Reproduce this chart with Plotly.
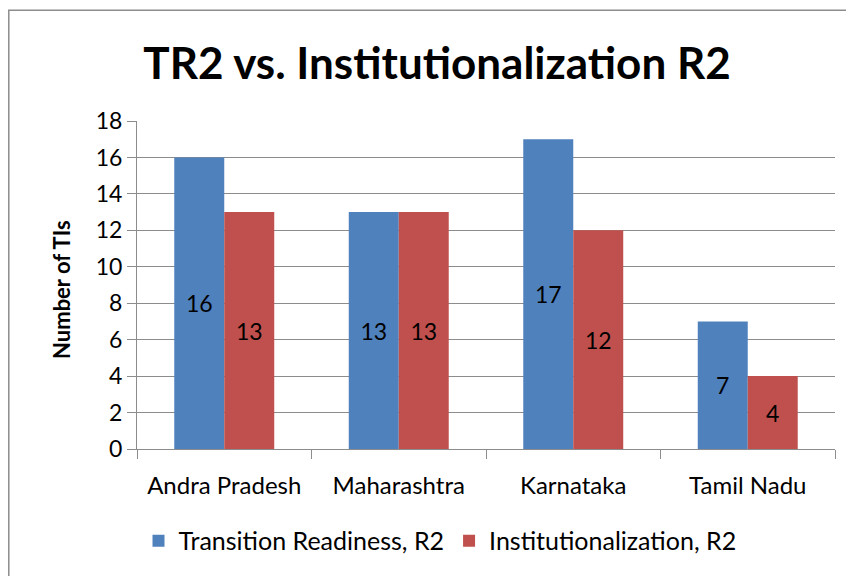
import plotly.graph_objects as go

categories = ["Andra Pradesh", "Maharashtra", "Karnataka", "Tamil Nadu"]
transition_readiness = [16, 13, 17, 7]
institutionalization = [13, 13, 12, 4]
y_ticks = [0, 2, 4, 6, 8, 10, 12, 14, 16, 18]

FONT = "Lato"
OFF = 8  # page body margin
W, H = 854 - OFF, 576 - OFF
# plot area in page coords: x 137..835, y 121..453
L, T = 137 - OFF, 121 - OFF
pw, ph = 698, 332
R = W - L - pw
B = H - T - ph

def px_x(x):  # page x -> paper
    return (x - OFF - L) / pw

def px_y(y):  # page y -> paper
    return (T + ph - (y - OFF)) / ph

fig = go.Figure()
fig.add_trace(go.Bar(
    name="Transition Readiness, R2", x=categories, y=transition_readiness,
    marker=dict(color="#4F81BD", line=dict(width=0)),
    text=transition_readiness, textposition="inside", insidetextanchor="middle",
    textangle=0, textfont=dict(family=FONT, size=23, color="black"),
))
fig.add_trace(go.Bar(
    name="Institutionalization, R2", x=categories, y=institutionalization,
    marker=dict(color="#C0504D", line=dict(width=0)),
    text=institutionalization, textposition="inside", insidetextanchor="middle",
    textangle=0, textfont=dict(family=FONT, size=23, color="black"),
))

fig.update_layout(
    width=W, height=H,
    margin=dict(l=L, r=R, t=T, b=B, pad=0),
    paper_bgcolor="white", plot_bgcolor="white",
    barmode="group", bargap=0.427, bargroupgap=0,
    font=dict(family=FONT, size=23, color="black"),
    title=dict(text="<b>TR2 vs. Institutionalization R2</b>", x=(437 - OFF) / W, xanchor="center",
               y=1 - (64 - OFF) / H, yanchor="middle", font=dict(family=FONT, size=44, color="black")),
    showlegend=True,
    legend=dict(orientation="h", x=px_x(440), xanchor="center", y=px_y(546), yanchor="middle",
                font=dict(family=FONT, size=25, color="black"), traceorder="normal",
                itemwidth=30, bgcolor="rgba(0,0,0,0)"),
    uniformtext=dict(mode=False),
)

fig.update_yaxes(
    range=[0, 18], tickvals=y_ticks, ticktext=[str(v) for v in y_ticks],
    showgrid=True, gridcolor="#8C8C8C", gridwidth=1,
    showline=True, linecolor="#8C8C8C", linewidth=1,
    ticks="outside", ticklen=9, tickcolor="#8C8C8C",
    tickfont=dict(family=FONT, size=23, color="black"), zeroline=False,
)
fig.update_xaxes(
    showline=True, linecolor="#8C8C8C", linewidth=1,
    ticks="outside", tickson="boundaries", ticklen=9, tickcolor="#8C8C8C",
    ticklabelstandoff=15,
    tickfont=dict(family=FONT, size=24, color="black"),
)

fig.add_annotation(
    text="<b>Number of TIs</b>", textangle=-90, xref="paper", yref="paper",
    x=px_x(62), y=px_y(292), xanchor="center", yanchor="middle", showarrow=False,
    font=dict(family=FONT, size=22, color="black"),
)

fig.add_shape(
    type="rect", xref="paper", yref="paper",
    x0=px_x(OFF + 0.8), x1=px_x(880), y0=px_y(600), y1=px_y(OFF + 0.8),
    line=dict(color="#8C8C8C", width=1.5), fillcolor="rgba(0,0,0,0)", layer="below",
)

fig.write_html("out.html")
